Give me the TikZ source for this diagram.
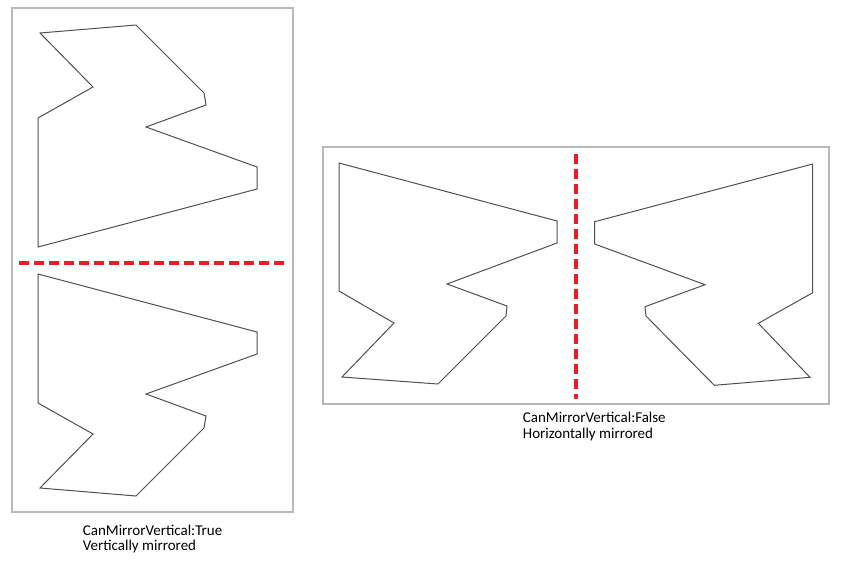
\documentclass[tikz,border=0pt]{standalone}
\usepackage{fontspec}
\setmainfont{Carlito}
\definecolor{framegray}{HTML}{B8B8B8}
\definecolor{shapegray}{HTML}{505050}
\definecolor{mirrorred}{HTML}{EC1C24}
\tikzset{
  framebox/.style={draw=framegray, line width=1.2pt},
  outline/.style={draw=shapegray, line width=1pt, line join=miter},
  mirrorline/.style={draw=mirrorred, line width=4pt, dash pattern=on 9.5pt off 5.5pt},
  caption/.style={anchor=base west, inner sep=0pt, font=\fontsize{15}{15.7}\selectfont, text=black}
}
\begin{document}
\begin{tikzpicture}[x=1pt,y=-1pt]
\useasboundingbox (0,0) rectangle (859,568);
% left frame
\draw[framebox] (12,8) rectangle (293,512);
\draw[outline] (40,33) -- (136,25) -- (204,93) -- (206,105) -- (146,127) -- (257,167) -- (257,189) -- (38,247) -- (38,118) -- (93,87) -- cycle;
\draw[outline] (40,488) -- (136,496) -- (204,428) -- (206,416) -- (146,394) -- (257,354) -- (257,332) -- (38,274) -- (38,403) -- (93,434) -- cycle;
\coordinate (hl) at (19,263);
\coordinate (hr) at (286,263);
\draw[mirrorline] (hl) -- (hr);
\node[caption] (cap1a) at (82.7,535) {CanMirrorVertical:True};
\node[caption] (cap1b) at (82.7,550.7) {Vertically mirrored};
% right frame
\draw[framebox] (323,147) rectangle (829,404);
\draw[outline] (339,163) -- (557,221) -- (557,243) -- (447,284) -- (507,306) -- (506,316) -- (438,384) -- (342,377) -- (394,323) -- (339,291) -- cycle;
\draw[outline] (812.7,164) -- (594.7,221.7) -- (594.7,244) -- (705,284.7) -- (645,306.7) -- (646,316) -- (714.3,385.3) -- (810,377.3) -- (758.3,323.3) -- (812.7,292.7) -- cycle;
\coordinate (vt) at (575.7,154);
\coordinate (vb) at (575.7,399);
\draw[mirrorline] (vt) -- (vb);
\node[caption] (cap2a) at (522.7,422.7) {CanMirrorVertical:False};
\node[caption] (cap2b) at (522.7,438.4) {Horizontally mirrored};
\end{tikzpicture}
\end{document}
